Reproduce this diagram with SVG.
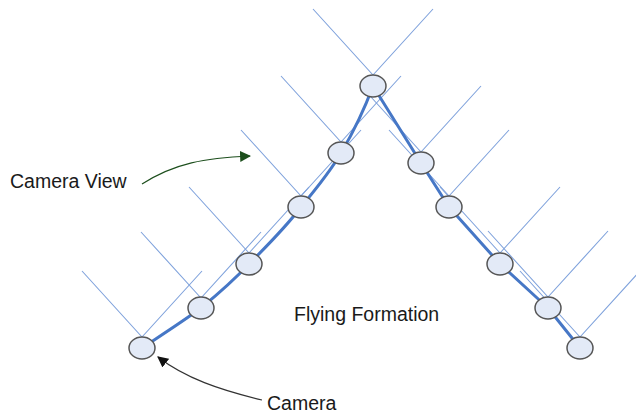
<svg xmlns="http://www.w3.org/2000/svg" width="636" height="416" viewBox="0 0 636 416">
<style>
.view{stroke:#7fa2dc;stroke-width:1.1;fill:none}
.wing{stroke:#4677c6;stroke-width:3;fill:none;stroke-linejoin:round;stroke-linecap:round}
.node ellipse{fill:#e3eaf7;stroke:#555;stroke-width:1.5}
text{font-family:"Liberation Sans",Arial,sans-serif;font-size:19.5px;fill:#1a1a1a}
</style>
<defs>
<marker id="ag" viewBox="0 0 10 10" refX="9" refY="5" markerWidth="11" markerHeight="11" markerUnits="userSpaceOnUse" orient="auto"><path d="M0,0 L10,5 L0,10 z" fill="#1d4f1d"/></marker>
<marker id="ak" viewBox="0 0 10 10" refX="9" refY="5" markerWidth="11" markerHeight="11" markerUnits="userSpaceOnUse" orient="auto"><path d="M0,0 L10,5 L0,10 z" fill="#111"/></marker>
</defs>
<rect width="636" height="416" fill="#fff"/>
<g id="views">
<path class="view" d="M82,271 L142,337 L202,271"/>
<path class="view" d="M141,232 L201,298 L261,232"/>
<path class="view" d="M189,187 L249,253 L309,187"/>
<path class="view" d="M241,130 L301,196 L361,130"/>
<path class="view" d="M281,76 L341,142 L401,76"/>
<path class="view" d="M313,9 L373,75 L433,9"/>
<path class="view" d="M361,86 L421,152 L481,86"/>
<path class="view" d="M389,130 L449,196 L509,130"/>
<path class="view" d="M440,187 L500,253 L560,187"/>
<path class="view" d="M488,231 L548,297 L608,231"/>
<path class="view" d="M520,271 L580,337 L640,271"/>
</g>
<g id="connectors">
<path class="wing" d="M142,348 C160,336 182,322 201,308 C218,294 234,280 249,264 C268,245 286,227 301,207 C316,189 330,172 341,153 C354,131 366,105 373,86 L421,163 L449,207 L500,264 L548,308 L580,348"/>
<path d="M142,184 C175,163 205,158 250,156" stroke="#1d4f1d" stroke-width="1.2" fill="none" marker-end="url(#ag)"/>
<path d="M262,400 C220,390 185,378 158,357" stroke="#333" stroke-width="1.2" fill="none" marker-end="url(#ak)"/>
</g>
<g id="n1" class="node"><ellipse cx="142" cy="348" rx="13" ry="11"/></g>
<g id="n2" class="node"><ellipse cx="201" cy="308" rx="13" ry="11"/></g>
<g id="n3" class="node"><ellipse cx="249" cy="264" rx="13" ry="11"/></g>
<g id="n4" class="node"><ellipse cx="301" cy="207" rx="13" ry="11"/></g>
<g id="n5" class="node"><ellipse cx="341" cy="153" rx="13" ry="11"/></g>
<g id="n6" class="node"><ellipse cx="373" cy="86" rx="13" ry="11"/></g>
<g id="n7" class="node"><ellipse cx="421" cy="163" rx="13" ry="11"/></g>
<g id="n8" class="node"><ellipse cx="449" cy="207" rx="13" ry="11"/></g>
<g id="n9" class="node"><ellipse cx="500" cy="264" rx="13" ry="11"/></g>
<g id="n10" class="node"><ellipse cx="548" cy="308" rx="13" ry="11"/></g>
<g id="n11" class="node"><ellipse cx="580" cy="348" rx="13" ry="11"/></g>
<g id="labels">
<text x="10" y="188">Camera View</text>
<text x="294" y="321">Flying Formation</text>
<text x="267" y="410">Camera</text>
</g>
</svg>
